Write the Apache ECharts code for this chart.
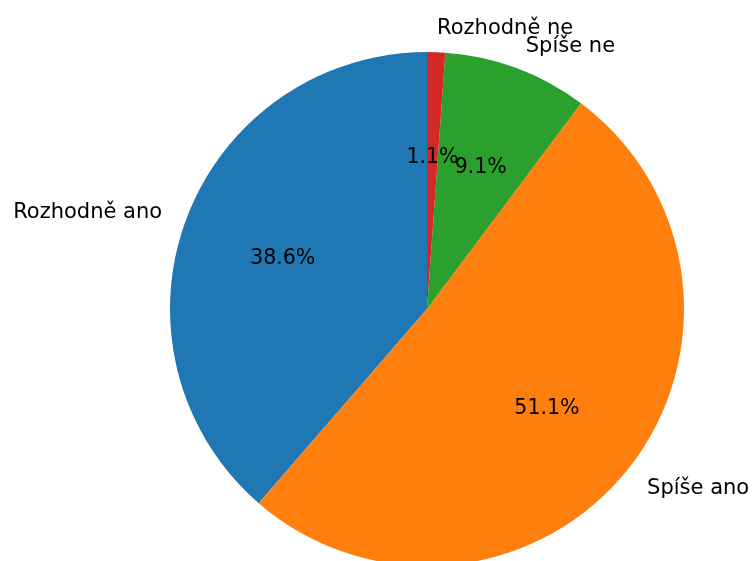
<!DOCTYPE html>
<html>
<head>
<meta charset="utf-8">
<script src="https://cdn.jsdelivr.net/npm/echarts@6/dist/echarts.min.js"></script>
<style>
  html, body { margin: 0; padding: 0; background: #fff; }
  #main { width: 752px; height: 561px; }
</style>
</head>
<body>
<div id="main"></div>
<script>
// answers (counts), matplotlib default colours
var categories = ["Rozhodně ano", "Spíše ano", "Spíše ne", "Rozhodně ne"];
var counts = [34, 45, 8, 1];
var colors = ["#1f77b4", "#ff7f0e", "#2ca02c", "#d62728"];

var total = counts.reduce(function (a, b) { return a + b; }, 0);
var R = 257;
var center = [427, 309];

var pieData = categories.map(function (name, i) {
  return { name: name, value: counts[i], itemStyle: { color: colors[i] } };
});

var myChart = echarts.init(document.getElementById("main"));
var option = {
  animation: false,
  textStyle: { fontFamily: "DejaVu Sans" },
  series: [
    {
      // slices + outer category labels
      type: "pie",
      center: center,
      radius: [0, R],
      startAngle: 90,
      clockwise: false,
      avoidLabelOverlap: false,
      silent: true,
      itemStyle: { borderWidth: 0 },
      labelLayout: { hideOverlap: false },
      label: {
        position: "outside",
        formatter: "{b}",
        color: "#000",
        fontSize: 21,
        fontFamily: "DejaVu Sans",
        offset: [0, 2],
        distanceToLabelLine: 0
      },
      labelLine: { show: false, length: R * 0.1, length2: 0 },
      data: pieData
    },
    {
      // percentage labels at 0.6 R
      type: "pie",
      center: center,
      radius: [R * 0.175, R],
      startAngle: 90,
      clockwise: false,
      avoidLabelOverlap: false,
      silent: true,
      itemStyle: { color: "transparent", borderWidth: 0 },
      labelLayout: { hideOverlap: false },
      label: {
        position: "inside",
        color: "#000",
        fontSize: 20.5,
        fontFamily: "DejaVu Sans",
        offset: [0, 3],
        formatter: function (p) {
          return (p.value / total * 100).toFixed(1) + "%";
        }
      },
      labelLine: { show: false },
      data: counts.map(function (v, i) { return { name: categories[i], value: v }; })
    }
  ]
};
myChart.setOption(option);
</script>
</body>
</html>
